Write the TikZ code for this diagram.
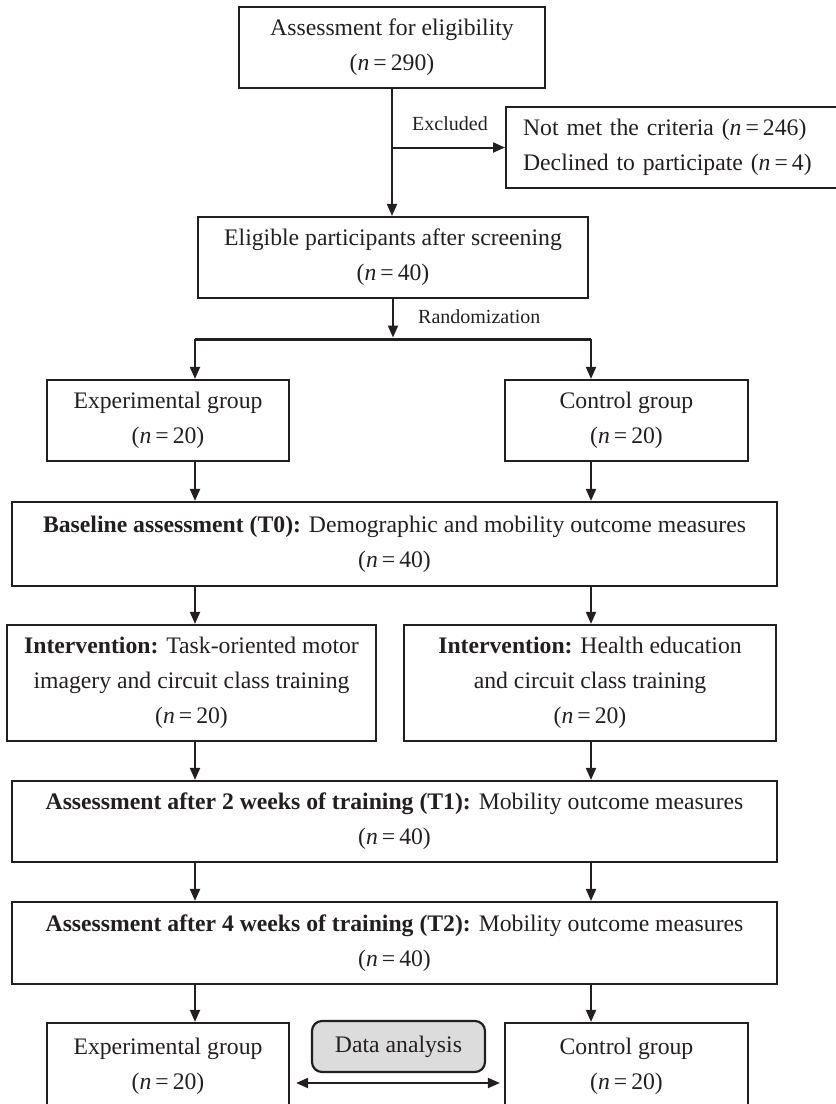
\documentclass[tikz,border=0pt]{standalone}
\usepackage{fontspec}
\setmainfont{Liberation Serif}
\usetikzlibrary{arrows.meta,calc}
\definecolor{linec}{HTML}{231F20}
\definecolor{dafill}{HTML}{DCDCDC}
\newcommand{\nnval}[1]{(\textit{n}\hspace{0.17em}=\hspace{0.17em}#1)}
\begin{document}
\begin{tikzpicture}[x=1pt,y=-1pt,
  box/.style={draw=linec, line width=2.2pt, align=center, inner sep=0pt,
    font=\fontsize{23.7}{35}\selectfont, text=linec},
  arr/.style={draw=linec, line width=2pt, -{Triangle[length=12pt,width=10pt]}},
  dblarr/.style={draw=linec, line width=2pt, {Triangle[length=12pt,width=10pt]}-{Triangle[length=12pt,width=10pt]}},
  branch/.style={draw=linec, line width=3pt},
  lbl/.style={font=\fontsize{20}{24}\selectfont, text=linec, inner sep=0pt},
]
\useasboundingbox (0,0) rectangle (836,1104);

\node[box, minimum width=306pt, minimum height=81pt] (b1) at (392,47.5)
  {Assessment for eligibility\\\nnval{290}};
\node[box, align=left, text width=301pt, inner xsep=17pt, minimum height=81pt, anchor=west] (ex) at (505,147.5)
  {Not met the criteria \nnval{246}\\Declined to participate \nnval{4}};
\node[lbl] (exl) at (450,124) {Excluded};
\node[box, minimum width=390pt, minimum height=81pt] (b2) at (393,257.5)
  {Eligible participants after screening\\\nnval{40}};
\node[lbl, anchor=west] (rl) at (418,317) {Randomization};
\node[box, minimum width=242pt, minimum height=81pt] (e1) at (168,420.5)
  {Experimental group\\\nnval{20}};
\node[box, minimum width=243pt, minimum height=81pt] (c1) at (626.5,420.5)
  {Control group\\\nnval{20}};
\node[box, minimum width=765pt, minimum height=84pt] (base) at (394.5,544)
  {\textbf{Baseline assessment (T0):} Demographic and mobility outcome measures\\\nnval{40}};
\node[box, minimum width=369pt, minimum height=116pt] (i1) at (191.5,683)
  {\textbf{Intervention:} Task-oriented motor\\imagery and circuit class training\\\nnval{20}};
\node[box, minimum width=372pt, minimum height=116pt] (i2) at (590,683)
  {\textbf{Intervention:} Health education\\and circuit class training\\\nnval{20}};
\node[box, minimum width=765pt, minimum height=81pt] (t1) at (394.5,821.5)
  {\textbf{Assessment after 2 weeks of training (T1):} Mobility outcome measures\\\nnval{40}};
\node[box, minimum width=765pt, minimum height=82pt] (t2) at (394.5,943)
  {\textbf{Assessment after 4 weeks of training (T2):} Mobility outcome measures\\\nnval{40}};
\node[box, minimum width=242pt, minimum height=86pt] (e2) at (168,1066)
  {Experimental group\\\nnval{20}};
\node[box, minimum width=243pt, minimum height=86pt] (c2) at (626.5,1066)
  {Control group\\\nnval{20}};
\node[box, minimum width=173pt, minimum height=51pt, rounded corners=10pt, fill=dafill] (da) at (398.5,1046.5)
  {Data analysis};

\coordinate (cl) at (195,0);
\coordinate (cr) at (591,0);
\coordinate (bm) at (0,339);

\draw[arr] (b1.south) -- (b1.south |- b2.north);
\draw[arr] (b1.south |- ex.west) -- (ex.west);
\draw[arr, shorten >=1.5pt] (b2.south) -- (b2.south |- bm);
\draw[branch] (cl |- bm) -- (cr |- bm);
\draw[arr] (cl |- bm) -- (cl |- e1.north);
\draw[arr] (cr |- bm) -- (cr |- c1.north);
\draw[arr] (cl |- e1.south) -- (cl |- base.north);
\draw[arr] (cr |- c1.south) -- (cr |- base.north);
\draw[arr] (cl |- base.south) -- (cl |- i1.north);
\draw[arr] (cr |- base.south) -- (cr |- i2.north);
\draw[arr] (cl |- i1.south) -- (cl |- t1.north);
\draw[arr] (cr |- i2.south) -- (cr |- t1.north);
\draw[arr] (cl |- t1.south) -- (cl |- t2.north);
\draw[arr] (cr |- t1.south) -- (cr |- t2.north);
\draw[arr] (cl |- t2.south) -- (cl |- e2.north);
\draw[arr] (cr |- t2.south) -- (cr |- c2.north);

\coordinate (dl) at ($(e2.east)+(6,17)$);
\coordinate (dr) at ($(c2.west)+(-4,17)$);
\draw[dblarr] (dl) -- (dr);
\end{tikzpicture}
\end{document}
